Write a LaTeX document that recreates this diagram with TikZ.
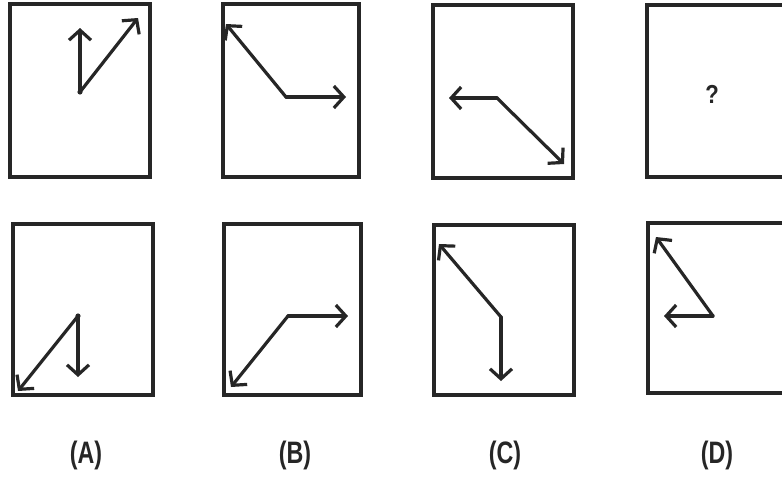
\documentclass[tikz,border=0pt]{standalone}
\usepackage{fontspec}
\setmainfont{Liberation Sans}
\usetikzlibrary{arrows.meta}
\begin{document}
\begin{tikzpicture}[x=1pt,y=-1pt,
  frame/.style={draw=black!85,line width=3.6pt},
  arr/.style={draw=black!85,line width=3.2pt,line join=round,line cap=round,
    -{Straight Barb[length=10pt,width=22pt,line width=3.2pt]}},
  lbl/.style={font=\fontsize{31}{33}\selectfont\bfseries,text=black!85,xscale=0.75}]
\useasboundingbox (0,0) rectangle (782,477);
\clip (0,0) rectangle (782,477);
% top row frames
\draw[frame] (10,4) rectangle (150,177);
\draw[frame] (223,4) rectangle (359,177);
\draw[frame] (433,5) rectangle (573,178);
\draw[frame] (647,5) rectangle (800,177);
% bottom row frames
\draw[frame] (13,224) rectangle (153,395);
\draw[frame] (224,224) rectangle (361,395);
\draw[frame] (434,225) rectangle (574,395);
\draw[frame] (648,223) rectangle (800,393);
% figure 1
\coordinate (v1) at (80,92);
\coordinate (u1) at (80,28);
\coordinate (d1) at (138,18);
\draw[arr] (v1) -- (u1);
\draw[arr] (v1) -- (d1);
\fill[black!85] (v1) circle (2.6pt);
% figure 2
\coordinate (v2) at (286,97);
\coordinate (a2) at (226,24);
\coordinate (b2) at (346,97);
\draw[arr] (v2) -- (a2);
\draw[arr] (v2) -- (b2);
% figure 3
\coordinate (v3) at (497,98);
\coordinate (a3) at (449,98);
\coordinate (b3) at (564,164);
\draw[arr] (v3) -- (a3);
\draw[arr] (v3) -- (b3);
% figure 4
\node[font=\fontsize{26}{28}\selectfont\bfseries, text=black!85, xscale=0.85] (q) at (712,94) {?};
% option A
\coordinate (vA) at (78,316);
\coordinate (aA) at (78,377);
\coordinate (bA) at (18,391);
\draw[arr] (vA) -- (aA);
\draw[arr] (vA) -- (bA);
\fill[black!85] (vA) circle (2.6pt);
% option B
\coordinate (vB) at (288,316);
\coordinate (aB) at (348,316);
\coordinate (bB) at (231,387);
\draw[arr] (vB) -- (aB);
\draw[arr] (vB) -- (bB);
% option C
\coordinate (vC) at (501,317);
\coordinate (aC) at (439,244);
\coordinate (bC) at (501,381);
\draw[arr] (vC) -- (aC);
\draw[arr] (vC) -- (bC);
% option D
\coordinate (vD) at (713,316);
\coordinate (aD) at (656,237);
\coordinate (bD) at (664,316);
\draw[arr] (vD) -- (aD);
\draw[arr] (vD) -- (bD);
% labels
\node[lbl] (lA) at (86,455) {(A)};
\node[lbl] (lB) at (295,455) {(B)};
\node[lbl] (lC) at (505,455) {(C)};
\node[lbl] (lD) at (717,455) {(D)};
\end{tikzpicture}
\end{document}
